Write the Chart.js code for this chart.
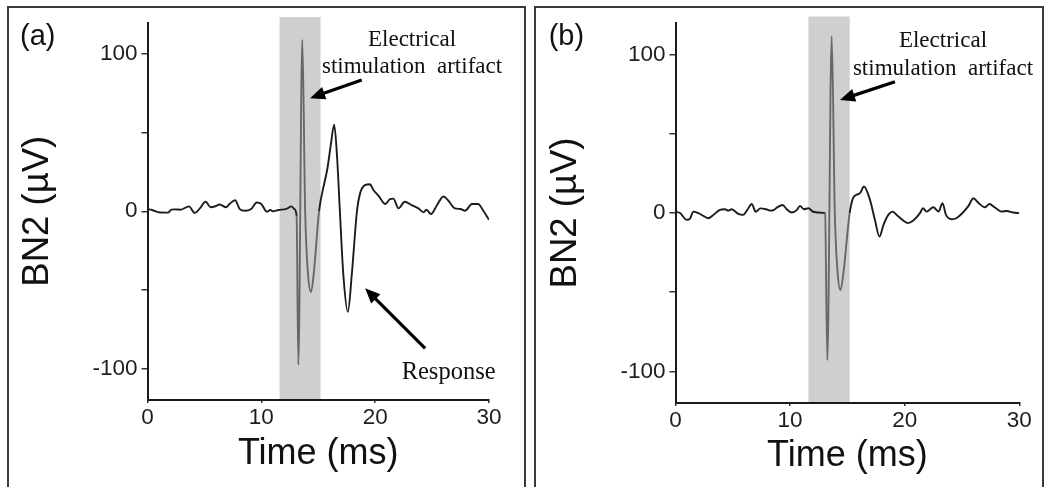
<!DOCTYPE html>
<html><head><meta charset="utf-8">
<script src="https://cdn.jsdelivr.net/npm/chart.js@4.4.1/dist/chart.umd.min.js"></script>
<style>
html,body{margin:0;padding:0;background:#fff;width:1050px;height:487px;overflow:hidden;position:relative}
.frame{position:absolute;box-sizing:border-box;border:2px solid #3a3a3a;height:495px}
#frameA{left:7px;top:6px;width:519px}
#frameB{left:534px;top:6px;width:510px}
canvas{position:absolute;top:0}
#chartA{left:0}
#chartB{left:530px}
</style></head><body>
<div class="frame" id="frameA"></div><div class="frame" id="frameB"></div>
<canvas id="chartA" width="530" height="487"></canvas>
<canvas id="chartB" width="520" height="487"></canvas>
<script>
// ---- data ----
const timeA = [0,0.4,1.1,1.8,2.1,2.4,2.9,3.65,4.15,4.6,5.1,5.55,5.9,6.35,6.9,7.2,7.7,8.1,8.55,9.1,9.6,10.0,10.5,10.8,11.0,11.5,12.2,12.65,12.9,13.1,13.25,13.6,13.85,14.1,14.37,14.6,15.07,15.6,15.8,16.1,16.4,16.65,16.9,17.2,17.6,17.95,18.4,18.7,19.1,19.55,19.8,20.3,20.9,21.3,21.6,22.05,22.6,23.2,23.8,24.25,24.5,24.9,25.4,26.0,26.4,27.0,27.5,27.9,28.5,29.05,29.5,30.0];
const bn2A = [1.4,0.8,-0.8,-0.9,1.0,1.2,1.0,3.1,-1.1,1.8,6.0,2.5,3.0,4.3,2.5,4.6,7.0,1.4,0.3,1.4,5.6,4.6,-0.3,0.8,0.0,0.8,1.5,3.1,1.4,-3,-97.7,108.9,0,-40,-51.3,-40,0,20,27,42,55,35,0,-40,-63.9,-40,0,12,16.6,17.2,14,9.8,4.6,7.7,8,1.8,6,3.9,1.8,-0.7,1,-1.8,3.5,9.4,7,1.8,1.4,0.3,4.6,4.6,0.3,-5.4];
const timeB = [0,0.4,0.98,1.27,1.56,2.0,2.43,2.86,3.3,3.88,4.3,4.6,4.9,5.48,5.9,6.27,6.65,7.0,7.4,7.9,8.3,8.6,8.9,9.35,9.7,10.14,10.6,10.86,11.2,11.6,12.0,12.9,13.05,13.25,13.63,13.9,14.15,14.4,14.65,15.2,15.5,15.8,16.1,16.45,16.97,17.4,17.8,18.15,18.57,18.95,19.3,19.88,20.3,20.75,21.33,21.6,21.9,22.5,22.95,23.3,23.6,24.1,24.5,25.0,25.55,26.0,26.4,27.0,27.4,27.85,28.46,28.9,29.48,30.0];
const bn2B = [0.7,0,-4.3,-3.5,0.9,-0.1,-1.8,-3.3,-1.2,2,2.4,1.5,2.4,-0.6,-1.2,2,5.7,0.8,2.9,2.4,1.5,2,3.7,5.1,2.4,0.3,2,4.5,2.4,3,0.8,0.1,-0.3,-93,111.5,0,-38,-48.7,-38,0,9.5,11.5,12.5,16.7,8.3,-4.3,-14.9,-7.5,-1.2,0.9,-1.2,-4.8,-6.4,-4.8,-0.1,3,0.9,3.6,0.9,6.2,-1.2,-3.9,-3.3,-0.3,4.3,9.3,6.6,3.6,5.7,3.6,0.9,1.3,0.3,-0.1];
const xTickValues = [0,10,20,30];
const yTickValues = [-100,-50,0,50,100];
const yTickLabels = ['-100','','0','','100'];
const bandRange = [11.6, 15.2];      // shaded stimulation window (ms)
const artifactRange = [13.0, 15.2];  // trace drawn in grey
const xTitle = 'Time (ms)';
const yTitle = 'BN2 (µV)';
const labelArtifact = ['Electrical', 'stimulation  artifact'];
const labelResponse = 'Response';

const DARK = '#1c1c1c', GREY = '#686868';

function arrow(ctx, x1, y1, x2, y2) {
  const ang = Math.atan2(y2 - y1, x2 - x1), hl = 15, hw = 6.5;
  const bx = x2 - hl * Math.cos(ang), by = y2 - hl * Math.sin(ang);
  ctx.save();
  ctx.strokeStyle = '#000'; ctx.fillStyle = '#000'; ctx.lineWidth = 3.2; ctx.lineCap = 'butt';
  ctx.beginPath(); ctx.moveTo(x1, y1); ctx.lineTo(bx + 2 * Math.cos(ang), by + 2 * Math.sin(ang)); ctx.stroke();
  ctx.beginPath();
  ctx.moveTo(x2, y2);
  ctx.lineTo(bx + hw * Math.sin(ang), by - hw * Math.cos(ang));
  ctx.lineTo(bx - hw * Math.sin(ang), by + hw * Math.cos(ang));
  ctx.closePath(); ctx.fill();
  ctx.restore();
}

function makeChart(id, time, vals, L) {
  const pts = time.map((t, i) => ({x: t, y: vals[i]}));
  const inArt = c => c.p0.parsed.x >= artifactRange[0] && c.p1.parsed.x <= artifactRange[1];
  const bandPlugin = {
    id: 'band' + id,
    beforeDatasetsDraw(chart) {
      const {ctx, chartArea, scales: {x}} = chart;
      const x0 = x.getPixelForValue(bandRange[0]), x1 = x.getPixelForValue(bandRange[1]);
      const top = chartArea.top - L.bandRise;
      ctx.save(); ctx.fillStyle = '#cfcfcf';
      ctx.fillRect(x0, top, x1 - x0, chartArea.bottom - 1 - top);
      ctx.restore();
    }
  };
  const annotPlugin = {
    id: 'annot' + id,
    afterDatasetsDraw(chart) {
      const {ctx, scales: {x, y}} = chart;
      const P = (t, v) => [x.getPixelForValue(t), y.getPixelForValue(v)];
      ctx.save();
      ctx.fillStyle = '#111';
      ctx.font = '29px "Liberation Sans", Arial, sans-serif';
      ctx.textAlign = 'left'; ctx.textBaseline = 'alphabetic';
      ctx.fillText(L.panel, L.panelX, 45);
      ctx.font = '23px "Liberation Serif", "Times New Roman", serif';
      ctx.textAlign = 'center';
      let p = P(L.artText[0], L.artText[1]);
      ctx.fillText(labelArtifact[0], p[0], p[1]);
      p = P(L.artText[0], L.artText[2]);
      ctx.fillText(labelArtifact[1], p[0], p[1]);
      const a = P(L.artArrow[0], L.artArrow[1]), b = P(L.artArrow[2], L.artArrow[3]);
      arrow(ctx, a[0], a[1], b[0], b[1]);
      if (L.respText) {
        ctx.font = '24.5px "Liberation Serif", "Times New Roman", serif';
        p = P(L.respText[0], L.respText[1]);
        ctx.fillText(labelResponse, p[0], p[1]);
        const c = P(L.respArrow[0], L.respArrow[1]), d = P(L.respArrow[2], L.respArrow[3]);
        arrow(ctx, c[0], c[1], d[0], d[1]);
      }
      ctx.restore();
    }
  };
  const tickGrid = len => ({display: true, drawOnChartArea: false, drawTicks: true, tickLength: len, color: '#333', lineWidth: 1.5});
  return new Chart(document.getElementById(id), {
    type: 'line',
    data: {datasets: [{data: pts, borderColor: DARK, borderWidth: 1.9, pointRadius: 0,
      cubicInterpolationMode: 'monotone', fill: false,
      segment: {borderColor: c => inArt(c) ? GREY : DARK}}]},
    options: {
      responsive: false, animation: false, devicePixelRatio: 1,
      layout: {padding: {left: 0, top: L.top, right: L.right, bottom: 0}},
      plugins: {legend: {display: false}, tooltip: {enabled: false}, title: {display: false}},
      scales: {
        x: {type: 'linear', min: 0, max: 30,
          afterBuildTicks: s => { s.ticks = xTickValues.map(v => ({value: v})); },
          afterFit: s => { s.height = L.xh; },
          grid: tickGrid(3), border: {display: true, color: '#1a1a1a', width: 2},
          ticks: {color: '#1e1e1e', font: {family: 'Liberation Sans', size: 22.5}, padding: 1, maxRotation: 0, autoSkip: false,
            callback: v => String(v)},
          title: {display: true, text: xTitle, color: '#111', font: {family: 'Liberation Sans', size: 36}, padding: {top: 0, bottom: L.xtp}}},
        y: {type: 'linear', min: -120, max: 120,
          afterBuildTicks: s => { s.ticks = yTickValues.map(v => ({value: v})); },
          afterFit: s => { s.width = L.yw; },
          grid: tickGrid(6), border: {display: true, color: '#1a1a1a', width: 2},
          ticks: {color: '#1e1e1e', font: {family: 'Liberation Sans', size: 22.5}, padding: 4,
            callback: v => yTickLabels[yTickValues.indexOf(v)]},
          title: {display: true, text: yTitle, color: '#111', font: {family: 'Liberation Sans', size: 36.5}, padding: {top: L.ytp, bottom: 0}}}
      }
    },
    plugins: [bandPlugin, annotPlugin]
  });
}

makeChart('chartA', timeA, bn2A, {
  top: 22.5, right: 41, xh: 87, yw: 147.5, xtp: 11, ytp: 16.5, bandRise: 5.5,
  panel: '(a)', panelX: 20,
  artText: [23.24, 105.2, 87.6], artArrow: [18.82, 83.5, 14.28, 71.9],
  respText: [26.45, -106.7], respArrow: [24.39, -87.2, 19.12, -49.0]
});
makeChart('chartB', timeB, bn2B, {
  top: 23, right: 30.7, xh: 84, yw: 145.5, xtp: 9, ytp: 14, bandRise: 6.5,
  panel: '(b)', panelX: 18.7,
  artText: [23.34, 105.1, 87.4], artArrow: [19.15, 82.9, 14.35, 71.4]
});
</script>
</body></html>
